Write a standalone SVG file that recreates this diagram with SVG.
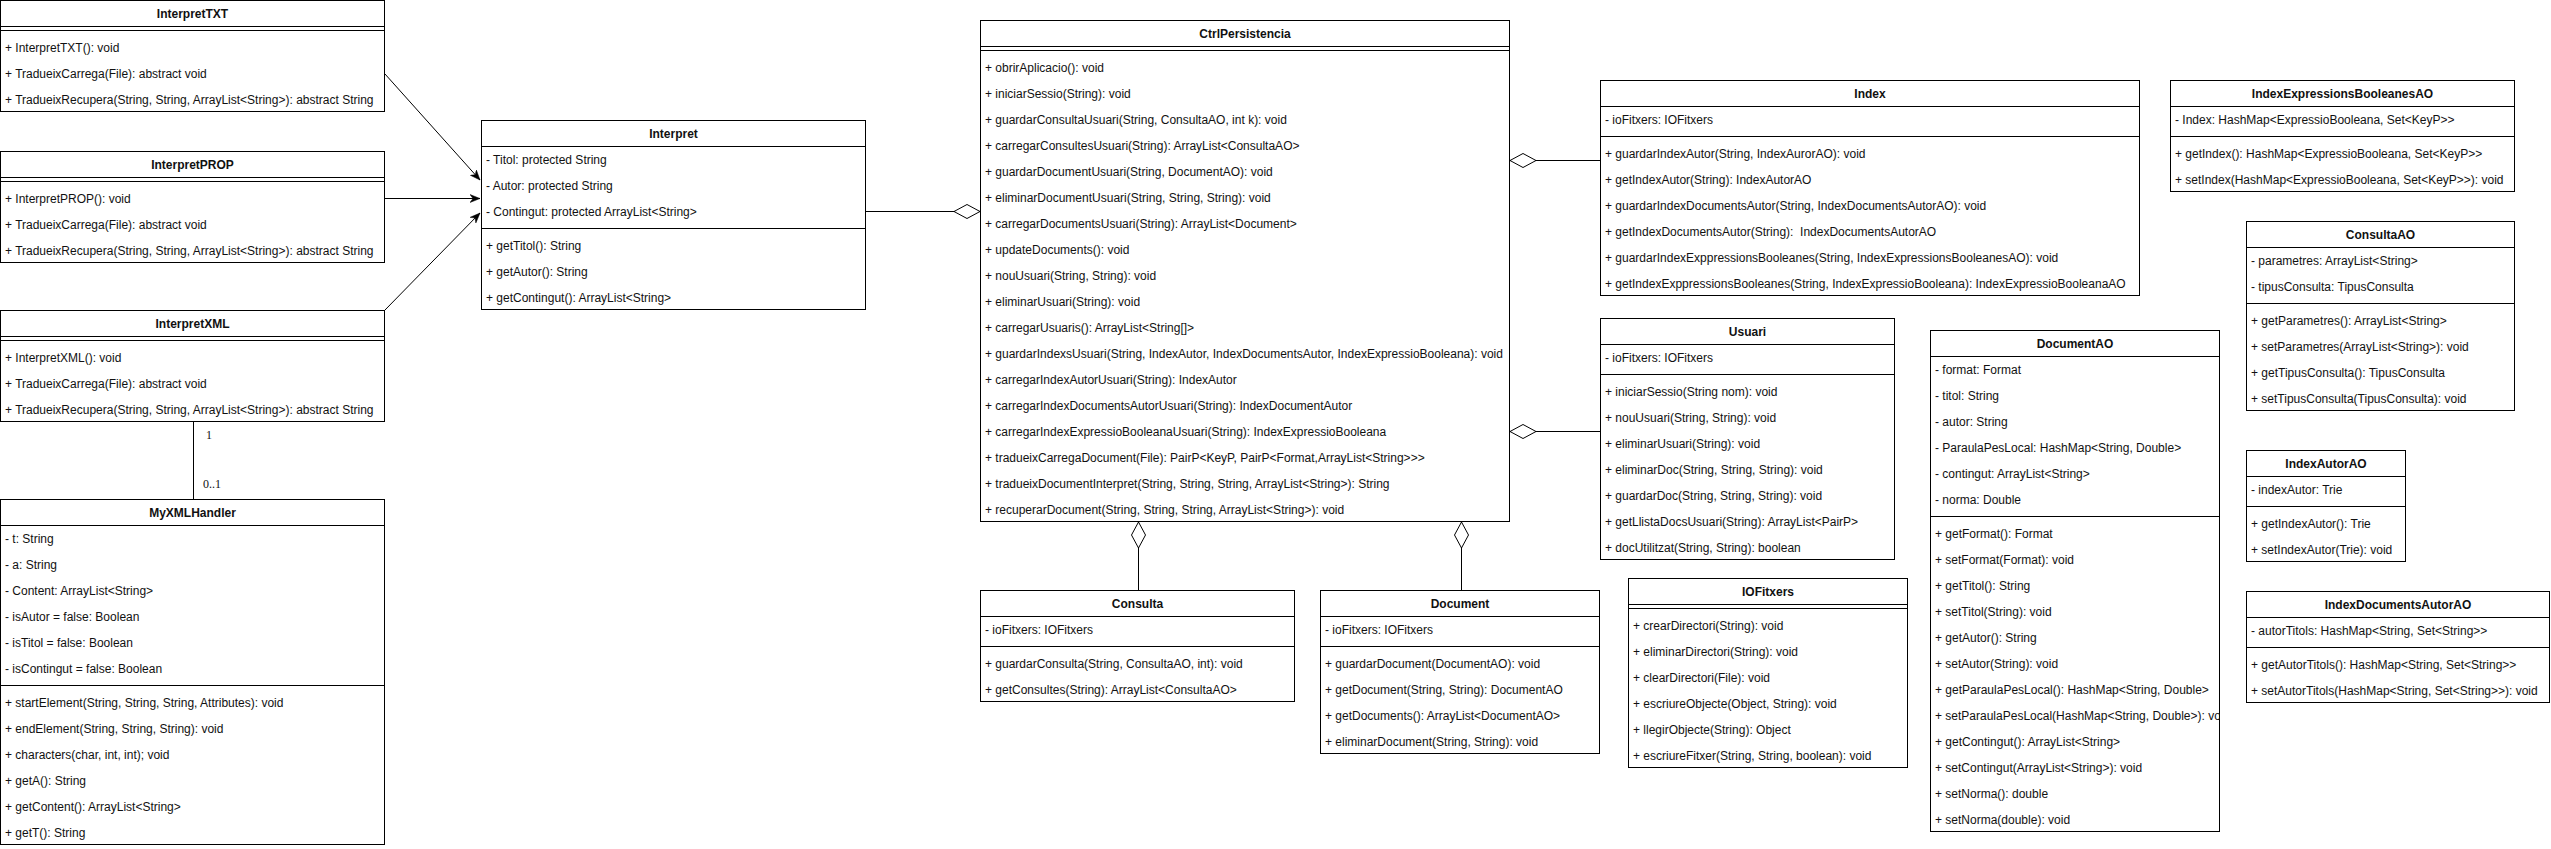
<svg xmlns="http://www.w3.org/2000/svg" width="2551" height="849" viewBox="0 0 2551 849">
<style>
.box{fill:#fff;stroke:#000;stroke-width:1}
.ln{stroke:#000;stroke-width:1;fill:none}
.t{font-family:"Liberation Sans",Arial,Helvetica,sans-serif;font-size:12px;fill:#111;white-space:pre;transform:translateY(1px)}
.h{font-weight:bold;text-anchor:middle}
.edge{stroke:#000;stroke-width:1;fill:none}
.lbl{font-family:"Liberation Serif","Times New Roman",serif;font-size:12px;fill:#111}
</style>
<defs>
<marker id="dia" markerUnits="userSpaceOnUse" markerWidth="28" markerHeight="16" viewBox="-1 -1 28 16" refX="0" refY="7" orient="auto">
<path d="M0,7 L13,0 L26,7 L13,14 Z" fill="#fff" stroke="#000" stroke-width="1"/>
</marker>
<marker id="arr" markerUnits="userSpaceOnUse" markerWidth="11" markerHeight="9" viewBox="0 0 11 9" refX="10" refY="4.5" orient="auto">
<path d="M0,0.5 L10,4.5 L0,8.5 L3,4.5 Z" fill="#000" stroke="#000" stroke-width="0.5"/>
</marker>
<clipPath id="clipDoc"><rect x="1930" y="330" width="290" height="502"/></clipPath>
</defs>

<g id="connectors">
<path class="edge" d="M385,74 L480,180" marker-end="url(#arr)"/>
<path class="edge" d="M385,198.5 L480,198.5" marker-end="url(#arr)"/>
<path class="edge" d="M385,310 L480,213" marker-end="url(#arr)"/>
<path class="edge" d="M193.5,422 L193.5,499" stroke="#555"/>
<text class="lbl" x="206" y="439">1</text>
<text class="lbl" x="203" y="488">0..1</text>
<path class="edge" d="M980,211.5 L866,211.5" marker-start="url(#dia)"/>
<path class="edge" d="M1138.5,522 L1138.5,590" marker-start="url(#dia)"/>
<path class="edge" d="M1461.5,522 L1461.5,590" marker-start="url(#dia)" stroke="#555"/>
<path class="edge" d="M1510,160.5 L1600,160.5" marker-start="url(#dia)"/>
<path class="edge" d="M1510,431.5 L1600,431.5" marker-start="url(#dia)"/>
</g>

<g id="InterpretTXT">
<rect class="box" x="0.5" y="0.5" width="384" height="111"/>
<path class="ln" d="M0.5,26.5 H384.5 M0.5,30.5 H384.5"/>
<text class="t h" x="192.5" y="17">InterpretTXT</text>
<text class="t" x="5" y="51">+ InterpretTXT(): void</text>
<text class="t" x="5" y="77">+ TradueixCarrega(File): abstract void</text>
<text class="t" x="5" y="103">+ TradueixRecupera(String, String, ArrayList&lt;String&gt;): abstract String</text>
</g>

<g id="InterpretPROP">
<rect class="box" x="0.5" y="151.5" width="384" height="111"/>
<path class="ln" d="M0.5,177.5 H384.5 M0.5,181.5 H384.5"/>
<text class="t h" x="192.5" y="168">InterpretPROP</text>
<text class="t" x="5" y="202">+ InterpretPROP(): void</text>
<text class="t" x="5" y="228">+ TradueixCarrega(File): abstract void</text>
<text class="t" x="5" y="254">+ TradueixRecupera(String, String, ArrayList&lt;String&gt;): abstract String</text>
</g>

<g id="InterpretXML">
<rect class="box" x="0.5" y="310.5" width="384" height="111"/>
<path class="ln" d="M0.5,336.5 H384.5 M0.5,340.5 H384.5"/>
<text class="t h" x="192.5" y="327">InterpretXML</text>
<text class="t" x="5" y="361">+ InterpretXML(): void</text>
<text class="t" x="5" y="387">+ TradueixCarrega(File): abstract void</text>
<text class="t" x="5" y="413">+ TradueixRecupera(String, String, ArrayList&lt;String&gt;): abstract String</text>
</g>

<g id="MyXMLHandler">
<rect class="box" x="0.5" y="499.5" width="384" height="345"/>
<path class="ln" d="M0.5,525.5 H384.5 M0.5,685.5 H384.5"/>
<text class="t h" x="192.5" y="516">MyXMLHandler</text>
<text class="t" x="5" y="542">- t: String</text>
<text class="t" x="5" y="568">- a: String</text>
<text class="t" x="5" y="594">- Content: ArrayList&lt;String&gt;</text>
<text class="t" x="5" y="620">- isAutor = false: Boolean</text>
<text class="t" x="5" y="646">- isTitol = false: Boolean</text>
<text class="t" x="5" y="672">- isContingut = false: Boolean</text>
<text class="t" x="5" y="706">+ startElement(String, String, String, Attributes): void</text>
<text class="t" x="5" y="732">+ endElement(String, String, String): void</text>
<text class="t" x="5" y="758">+ characters(char, int, int); void</text>
<text class="t" x="5" y="784">+ getA(): String</text>
<text class="t" x="5" y="810">+ getContent(): ArrayList&lt;String&gt;</text>
<text class="t" x="5" y="836">+ getT(): String</text>
</g>

<g id="Interpret">
<rect class="box" x="481.5" y="120.5" width="384" height="189"/>
<path class="ln" d="M481.5,146.5 H865.5 M481.5,228.5 H865.5"/>
<text class="t h" x="673.5" y="137">Interpret</text>
<text class="t" x="486" y="163">- Titol: protected String</text>
<text class="t" x="486" y="189">- Autor: protected String</text>
<text class="t" x="486" y="215">- Contingut: protected ArrayList&lt;String&gt;</text>
<text class="t" x="486" y="249">+ getTitol(): String</text>
<text class="t" x="486" y="275">+ getAutor(): String</text>
<text class="t" x="486" y="301">+ getContingut(): ArrayList&lt;String&gt;</text>
</g>

<g id="CtrlPersistencia">
<rect class="box" x="980.5" y="20.5" width="529" height="501"/>
<path class="ln" d="M980.5,46.5 H1509.5 M980.5,50.5 H1509.5"/>
<text class="t h" x="1245" y="37">CtrlPersistencia</text>
<text class="t" x="985" y="71">+ obrirAplicacio(): void</text>
<text class="t" x="985" y="97">+ iniciarSessio(String): void</text>
<text class="t" x="985" y="123">+ guardarConsultaUsuari(String, ConsultaAO, int k): void</text>
<text class="t" x="985" y="149">+ carregarConsultesUsuari(String): ArrayList&lt;ConsultaAO&gt;</text>
<text class="t" x="985" y="175">+ guardarDocumentUsuari(String, DocumentAO): void</text>
<text class="t" x="985" y="201">+ eliminarDocumentUsuari(String, String, String): void</text>
<text class="t" x="985" y="227">+ carregarDocumentsUsuari(String): ArrayList&lt;Document&gt;</text>
<text class="t" x="985" y="253">+ updateDocuments(): void</text>
<text class="t" x="985" y="279">+ nouUsuari(String, String): void</text>
<text class="t" x="985" y="305">+ eliminarUsuari(String): void</text>
<text class="t" x="985" y="331">+ carregarUsuaris(): ArrayList&lt;String[]&gt;</text>
<text class="t" x="985" y="357">+ guardarIndexsUsuari(String, IndexAutor, IndexDocumentsAutor, IndexExpressioBooleana): void</text>
<text class="t" x="985" y="383">+ carregarIndexAutorUsuari(String): IndexAutor</text>
<text class="t" x="985" y="409">+ carregarIndexDocumentsAutorUsuari(String): IndexDocumentAutor</text>
<text class="t" x="985" y="435">+ carregarIndexExpressioBooleanaUsuari(String): IndexExpressioBooleana</text>
<text class="t" x="985" y="461">+ tradueixCarregaDocument(File): PairP&lt;KeyP, PairP&lt;Format,ArrayList&lt;String&gt;&gt;&gt;</text>
<text class="t" x="985" y="487">+ tradueixDocumentInterpret(String, String, String, ArrayList&lt;String&gt;): String</text>
<text class="t" x="985" y="513">+ recuperarDocument(String, String, String, ArrayList&lt;String&gt;): void</text>
</g>

<g id="Index">
<rect class="box" x="1600.5" y="80.5" width="539" height="215"/>
<path class="ln" d="M1600.5,106.5 H2139.5 M1600.5,136.5 H2139.5"/>
<text class="t h" x="1870" y="97">Index</text>
<text class="t" x="1605" y="123">- ioFitxers: IOFitxers</text>
<text class="t" x="1605" y="157">+ guardarIndexAutor(String, IndexAurorAO): void</text>
<text class="t" x="1605" y="183">+ getIndexAutor(String): IndexAutorAO</text>
<text class="t" x="1605" y="209">+ guardarIndexDocumentsAutor(String, IndexDocumentsAutorAO): void</text>
<text class="t" x="1605" y="235">+ getIndexDocumentsAutor(String):  IndexDocumentsAutorAO</text>
<text class="t" x="1605" y="261">+ guardarIndexExppressionsBooleanes(String, IndexExpressionsBooleanesAO): void</text>
<text class="t" x="1605" y="287">+ getIndexExppressionsBooleanes(String, IndexExpressioBooleana): IndexExpressioBooleanaAO</text>
</g>

<g id="Usuari">
<rect class="box" x="1600.5" y="318.5" width="294" height="241"/>
<path class="ln" d="M1600.5,344.5 H1894.5 M1600.5,374.5 H1894.5"/>
<text class="t h" x="1747.5" y="335">Usuari</text>
<text class="t" x="1605" y="361">- ioFitxers: IOFitxers</text>
<text class="t" x="1605" y="395">+ iniciarSessio(String nom): void</text>
<text class="t" x="1605" y="421">+ nouUsuari(String, String): void</text>
<text class="t" x="1605" y="447">+ eliminarUsuari(String): void</text>
<text class="t" x="1605" y="473">+ eliminarDoc(String, String, String): void</text>
<text class="t" x="1605" y="499">+ guardarDoc(String, String, String): void</text>
<text class="t" x="1605" y="525">+ getLlistaDocsUsuari(String): ArrayList&lt;PairP&gt;</text>
<text class="t" x="1605" y="551">+ docUtilitzat(String, String): boolean</text>
</g>

<g id="IOFitxers">
<rect class="box" x="1628.5" y="578.5" width="279" height="189"/>
<path class="ln" d="M1628.5,604.5 H1907.5 M1628.5,608.5 H1907.5"/>
<text class="t h" x="1768" y="595">IOFitxers</text>
<text class="t" x="1633" y="629">+ crearDirectori(String): void</text>
<text class="t" x="1633" y="655">+ eliminarDirectori(String): void</text>
<text class="t" x="1633" y="681">+ clearDirectori(File): void</text>
<text class="t" x="1633" y="707">+ escriureObjecte(Object, String): void</text>
<text class="t" x="1633" y="733">+ llegirObjecte(String): Object</text>
<text class="t" x="1633" y="759">+ escriureFitxer(String, String, boolean): void</text>
</g>

<g id="DocumentAO">
<rect class="box" x="1930.5" y="330.5" width="289" height="501"/>
<path class="ln" d="M1930.5,356.5 H2219.5 M1930.5,516.5 H2219.5"/>
<text class="t h" x="2075" y="347">DocumentAO</text>
<g clip-path="url(#clipDoc)">
<text class="t" x="1935" y="373">- format: Format</text>
<text class="t" x="1935" y="399">- titol: String</text>
<text class="t" x="1935" y="425">- autor: String</text>
<text class="t" x="1935" y="451">- ParaulaPesLocal: HashMap&lt;String, Double&gt;</text>
<text class="t" x="1935" y="477">- contingut: ArrayList&lt;String&gt;</text>
<text class="t" x="1935" y="503">- norma: Double</text>
<text class="t" x="1935" y="537">+ getFormat(): Format</text>
<text class="t" x="1935" y="563">+ setFormat(Format): void</text>
<text class="t" x="1935" y="589">+ getTitol(): String</text>
<text class="t" x="1935" y="615">+ setTitol(String): void</text>
<text class="t" x="1935" y="641">+ getAutor(): String</text>
<text class="t" x="1935" y="667">+ setAutor(String): void</text>
<text class="t" x="1935" y="693">+ getParaulaPesLocal(): HashMap&lt;String, Double&gt;</text>
<text class="t" x="1935" y="719">+ setParaulaPesLocal(HashMap&lt;String, Double&gt;): void</text>
<text class="t" x="1935" y="745">+ getContingut(): ArrayList&lt;String&gt;</text>
<text class="t" x="1935" y="771">+ setContingut(ArrayList&lt;String&gt;): void</text>
<text class="t" x="1935" y="797">+ setNorma(): double</text>
<text class="t" x="1935" y="823">+ setNorma(double): void</text>
</g>
</g>

<g id="Consulta">
<rect class="box" x="980.5" y="590.5" width="314" height="111"/>
<path class="ln" d="M980.5,616.5 H1294.5 M980.5,646.5 H1294.5"/>
<text class="t h" x="1137.5" y="607">Consulta</text>
<text class="t" x="985" y="633">- ioFitxers: IOFitxers</text>
<text class="t" x="985" y="667">+ guardarConsulta(String, ConsultaAO, int): void</text>
<text class="t" x="985" y="693">+ getConsultes(String): ArrayList&lt;ConsultaAO&gt;</text>
</g>

<g id="Document">
<rect class="box" x="1320.5" y="590.5" width="279" height="163"/>
<path class="ln" d="M1320.5,616.5 H1599.5 M1320.5,646.5 H1599.5"/>
<text class="t h" x="1460" y="607">Document</text>
<text class="t" x="1325" y="633">- ioFitxers: IOFitxers</text>
<text class="t" x="1325" y="667">+ guardarDocument(DocumentAO): void</text>
<text class="t" x="1325" y="693">+ getDocument(String, String): DocumentAO</text>
<text class="t" x="1325" y="719">+ getDocuments(): ArrayList&lt;DocumentAO&gt;</text>
<text class="t" x="1325" y="745">+ eliminarDocument(String, String): void</text>
</g>

<g id="IndexExpressionsBooleanesAO">
<rect class="box" x="2170.5" y="80.5" width="344" height="111"/>
<path class="ln" d="M2170.5,106.5 H2514.5 M2170.5,136.5 H2514.5"/>
<text class="t h" x="2342.5" y="97">IndexExpressionsBooleanesAO</text>
<text class="t" x="2175" y="123">- Index: HashMap&lt;ExpressioBooleana, Set&lt;KeyP&gt;&gt;</text>
<text class="t" x="2175" y="157">+ getIndex(): HashMap&lt;ExpressioBooleana, Set&lt;KeyP&gt;&gt;</text>
<text class="t" x="2175" y="183">+ setIndex(HashMap&lt;ExpressioBooleana, Set&lt;KeyP&gt;&gt;): void</text>
</g>

<g id="ConsultaAO">
<rect class="box" x="2246.5" y="221.5" width="268" height="189"/>
<path class="ln" d="M2246.5,247.5 H2514.5 M2246.5,303.5 H2514.5"/>
<text class="t h" x="2380.5" y="238">ConsultaAO</text>
<text class="t" x="2251" y="264">- parametres: ArrayList&lt;String&gt;</text>
<text class="t" x="2251" y="290">- tipusConsulta: TipusConsulta</text>
<text class="t" x="2251" y="324">+ getParametres(): ArrayList&lt;String&gt;</text>
<text class="t" x="2251" y="350">+ setParametres(ArrayList&lt;String&gt;): void</text>
<text class="t" x="2251" y="376">+ getTipusConsulta(): TipusConsulta</text>
<text class="t" x="2251" y="402">+ setTipusConsulta(TipusConsulta): void</text>
</g>

<g id="IndexAutorAO">
<rect class="box" x="2246.5" y="450.5" width="159" height="111"/>
<path class="ln" d="M2246.5,476.5 H2405.5 M2246.5,506.5 H2405.5"/>
<text class="t h" x="2326" y="467">IndexAutorAO</text>
<text class="t" x="2251" y="493">- indexAutor: Trie</text>
<text class="t" x="2251" y="527">+ getIndexAutor(): Trie</text>
<text class="t" x="2251" y="553">+ setIndexAutor(Trie): void</text>
</g>

<g id="IndexDocumentsAutorAO">
<rect class="box" x="2246.5" y="591.5" width="303" height="111"/>
<path class="ln" d="M2246.5,617.5 H2549.5 M2246.5,647.5 H2549.5"/>
<text class="t h" x="2398" y="608">IndexDocumentsAutorAO</text>
<text class="t" x="2251" y="634">- autorTitols: HashMap&lt;String, Set&lt;String&gt;&gt;</text>
<text class="t" x="2251" y="668">+ getAutorTitols(): HashMap&lt;String, Set&lt;String&gt;&gt;</text>
<text class="t" x="2251" y="694">+ setAutorTitols(HashMap&lt;String, Set&lt;String&gt;&gt;): void</text>
</g>
</svg>
